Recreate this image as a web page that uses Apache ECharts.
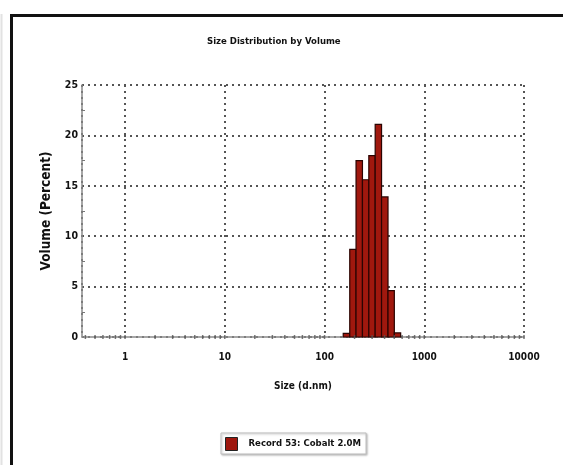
<!DOCTYPE html>
<html>
<head>
<meta charset="utf-8">
<style>
  html, body { margin: 0; padding: 0; background: #fff; }
  #chart { width: 563px; height: 465px; }
</style>
<script src="https://cdn.jsdelivr.net/npm/echarts@6/dist/echarts.min.js"></script>
</head>
<body>
<div id="chart"></div>
<script>
// Histogram bin edges along the size axis (d.nm) and the volume share of each bin (%)
const binEdges = [154, 179, 207, 240, 278, 322, 373, 433, 501, 580];
const volumePercent = [0.35, 8.7, 17.5, 15.6, 18.0, 21.1, 13.9, 4.6, 0.4];
const seriesName = 'Record 53: Cobalt 2.0M';
const yTicks = [0, 5, 10, 15, 20, 25];
const decades = [1, 10, 100, 1000, 10000];
const subTickMultipliers = [1, 2, 3, 4, 5, 6, 7, 8, 9];

const FONT = "'DejaVu Sans Condensed', 'Liberation Sans Narrow', 'Liberation Sans', sans-serif";

// One [lowerEdge, upperEdge, volume] row per bar
const bars = volumePercent.map((v, i) => [binEdges[i], binEdges[i + 1], v]);

// Small marks along the log axis at 1..9 x 10^k
const axisMarks = [];
[0.1, 1, 10, 100, 1000].forEach(d => {
  subTickMultipliers.forEach(m => {
    const s = d * m;
    if (s >= 0.37 && s <= 10000) axisMarks.push([s, 0]);
  });
});
axisMarks.push([10000, 0]);

const chart = echarts.init(document.getElementById('chart'), null, { renderer: 'canvas' });

const dotted = { type: [2, 4], width: 2, color: '#555' };
const textBase = { fontFamily: FONT, fontSize: 10, fontWeight: 'bold', color: '#111' };

chart.setOption({
  animation: false,
  backgroundColor: '#fff',
  title: {
    text: 'Size Distribution by Volume',
    left: 202,
    top: 32,
    textStyle: Object.assign({}, textBase, { fontSize: 9.5 })
  },
  legend: {
    left: 221,
    top: 433,
    orient: 'horizontal',
    padding: [4, 5, 3, 4],
    borderColor: '#bdbdbd',
    borderWidth: 1,
    shadowColor: 'rgba(0,0,0,0.25)',
    shadowBlur: 2,
    shadowOffsetX: 1,
    shadowOffsetY: 1,
    backgroundColor: '#fff',
    itemWidth: 12,
    itemHeight: 13,
    textStyle: Object.assign({}, textBase, { fontSize: 9.5, padding: [0, 0, 0, 6] }),
    data: [{
      name: seriesName,
      icon: 'rect',
      itemStyle: { color: '#9e160d', borderColor: '#222', borderWidth: 1 }
    }]
  },
  grid: { left: 82, right: 39, top: 85, bottom: 128, containLabel: false },
  xAxis: {
    type: 'log',
    logBase: 10,
    min: 0.37,
    max: 10000,
    name: 'Size (d.nm)',
    nameLocation: 'middle',
    nameGap: 44,
    nameTextStyle: Object.assign({}, textBase),
    axisLine: { show: true, onZero: false, lineStyle: { color: '#8a8a8a', width: 1.5 } },
    axisTick: { show: false },
    axisLabel: Object.assign({
      showMinLabel: false,
      margin: 15,
      formatter: v => (decades.indexOf(Math.round(v)) >= 0 ? String(Math.round(v)) : '')
    }, textBase),
    splitLine: { show: true, lineStyle: dotted },
    minorTick: { show: false },
    minorSplitLine: { show: false }
  },
  yAxis: {
    type: 'value',
    min: 0,
    max: 25,
    interval: 5,
    name: 'Volume (Percent)',
    nameLocation: 'middle',
    nameGap: 20,
    nameTextStyle: Object.assign({}, textBase, { fontSize: 13.5 }),
    axisLine: { show: true, lineStyle: { color: '#8a8a8a', width: 1.5 } },
    axisTick: { show: false, inside: true },
    minorTick: { show: true, splitNumber: 2, length: 3, lineStyle: { color: '#777', width: 1 } },
    axisLabel: Object.assign({
      margin: 4,
      formatter: v => (yTicks.indexOf(v) >= 0 ? String(v) : '')
    }, textBase, { fontSize: 10.5 }),
    splitLine: { show: true, lineStyle: dotted }
  },
  series: [
    {
      name: seriesName,
      type: 'custom',
      encode: { x: [0, 1], y: 2 },
      data: bars,
      itemStyle: { color: '#9e160d' },
      renderItem: function (params, api) {
        const topLeft = api.coord([api.value(0), api.value(2)]);
        const bottomRight = api.coord([api.value(1), 0]);
        return {
          type: 'rect',
          shape: {
            x: topLeft[0],
            y: topLeft[1],
            width: bottomRight[0] - topLeft[0],
            height: bottomRight[1] - topLeft[1]
          },
          style: { fill: '#a0180e', stroke: '#2a0402', lineWidth: 1.2 }
        };
      },
      z: 3
    },
    {
      name: 'axisMarks',
      type: 'scatter',
      data: axisMarks,
      symbol: 'rect',
      symbolSize: [1.5, 4],
      itemStyle: { color: '#555' },
      clip: false,
      silent: true,
      z: 4
    }
  ],
  graphic: [
    {
      type: 'rect',
      silent: true,
      shape: { x: 11.5, y: 15.5, width: 620, height: 520 },
      style: { fill: null, stroke: '#111', lineWidth: 3 },
      z: 10
    },
    {
      type: 'line',
      silent: true,
      shape: { x1: 1.5, y1: 14, x2: 1.5, y2: 465 },
      style: { stroke: '#e2e2e2', lineWidth: 2 },
      z: 10
    }
  ]
});
</script>
</body>
</html>
